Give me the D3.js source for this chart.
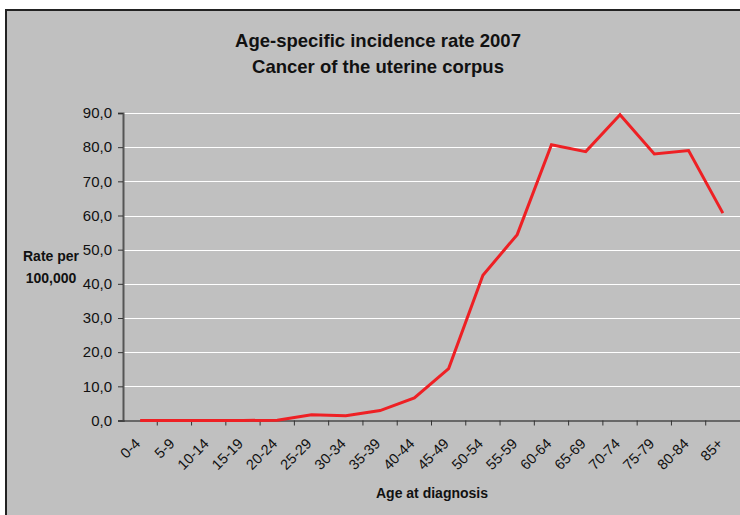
<!DOCTYPE html>
<html><head><meta charset="utf-8">
<script src="https://cdn.jsdelivr.net/npm/d3@7"></script>
<style>body{margin:0;background:#fff}svg{display:block}text{font-family:"Liberation Sans",Arial,sans-serif}</style>
</head><body>
<svg id="c" width="740" height="515"></svg>
<script>
const categories = ["0-4","5-9","10-14","15-19","20-24","25-29","30-34","35-39","40-44","45-49","50-54","55-59","60-64","65-69","70-74","75-79","80-84","85+"];
const rates = [0,0,0,0,0.1,1.7,1.4,2.9,6.6,15.2,42.5,54.4,80.7,78.7,89.5,78.0,79.0,60.7];
const yTicks = [0,10,20,30,40,50,60,70,80,90];
const titleLines = ["Age-specific incidence rate 2007","Cancer of the uterine corpus"];
const yTitle = ["Rate per","100,000"];
const xTitle = "Age at diagnosis";

const svg = d3.select("#c");
svg.append("rect").attr("x",6).attr("y",10).attr("width",740).attr("height",520).attr("fill","#c0c0c0").attr("stroke","#222").attr("stroke-width",2);

const L=123, R=740, T=113, B=420.5;
const x = d3.scaleBand().domain(categories).range([L,R]);
const y = d3.scaleLinear().domain([0,90]).range([B,T]);

// grid
svg.append("g").selectAll("line").data(yTicks.filter(d=>d>0)).join("line")
  .attr("x1",L).attr("x2",R).attr("y1",d=>Math.round(y(d))+0.5).attr("y2",d=>Math.round(y(d))+0.5)
  .attr("stroke","#fff").attr("stroke-width",1);

// y axis
const ya = svg.append("g").attr("transform",`translate(${L},0)`)
  .call(d3.axisLeft(y).tickValues(yTicks).tickSize(5).tickPadding(6).tickFormat(d=>d3.format(".1f")(d).replace(".",",")));
ya.select(".domain").attr("stroke","#555").attr("stroke-width",2);
ya.selectAll(".tick line").attr("stroke","#333");
ya.selectAll("text").attr("font-size",15).attr("fill","#111");

// x axis
const xa = svg.append("g").attr("transform",`translate(0,${B})`)
  .call(d3.axisBottom(x).tickSize(0).tickSizeOuter(0).tickFormat(""));
xa.select(".domain").attr("stroke","#111").attr("stroke-width",1.2);
svg.append("g").selectAll("line").data(categories.slice(1)).join("line")
  .attr("x1",d=>x(d)).attr("x2",d=>x(d)).attr("y1",B).attr("y2",B+5).attr("stroke","#333");
svg.append("g").selectAll("text").data(categories).join("text")
  .attr("transform",d=>`translate(${x(d)+x.bandwidth()/2+1},${B+24}) rotate(-45)`)
  .attr("text-anchor","end").attr("font-size",14.5).attr("fill","#111").text(d=>d);

// line
const line = d3.line().x((d,i)=>x(categories[i])+x.bandwidth()/2).y(d=>y(d));
svg.append("path").datum(rates).attr("d",line).attr("fill","none").attr("stroke","#ee2024").attr("stroke-width",3).attr("stroke-linejoin","miter");

// titles
svg.append("g").selectAll("text").data(titleLines).join("text")
  .attr("x",378).attr("y",(d,i)=>47+i*26).attr("text-anchor","middle")
  .attr("font-size",18.5).attr("font-weight","bold").attr("fill","#111").text(d=>d);
svg.append("g").selectAll("text").data(yTitle).join("text")
  .attr("x",51).attr("y",(d,i)=>261+i*22).attr("text-anchor","middle")
  .attr("font-size",14).attr("font-weight","bold").attr("fill","#111").text(d=>d);
svg.append("text").attr("x",432).attr("y",498).attr("text-anchor","middle")
  .attr("font-size",14).attr("font-weight","bold").attr("fill","#111").text(xTitle);
</script>
</body></html>
